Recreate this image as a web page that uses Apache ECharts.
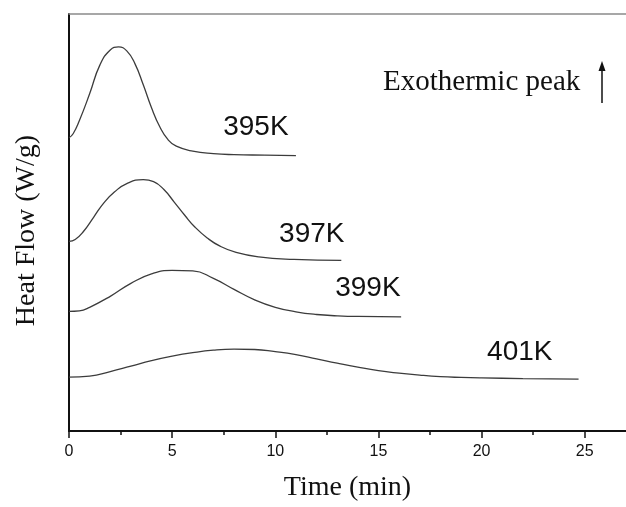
<!DOCTYPE html>
<html>
<head>
<meta charset="utf-8">
<script src="https://cdn.jsdelivr.net/npm/echarts@6/dist/echarts.min.js"></script>
<style>
  html, body { margin: 0; padding: 0; background: #fff; }
  #heatChart { width: 626px; height: 507px; }
</style>
</head>
<body>
<div id="heatChart"></div>
<script>
// DSC isothermal curves, heat flow in arbitrary units (curves are offset)
let time395 = [0, 0.2, 0.5, 1, 1.5, 2, 2.4, 2.8, 3.2, 3.6, 4, 4.4, 4.8, 5.2, 6, 7, 8, 9.5, 11]
let flow395 = [294, 298, 311, 338, 367, 382, 385, 381, 368, 347, 324, 305, 292, 285.5, 280.5, 278, 277, 276.5, 276]

let time397 = [0, 0.3, 0.7, 1.2, 1.7, 2.2, 2.8, 3.6, 4.1, 4.6, 5.1, 5.6, 6.1, 6.7, 7.3, 8.1, 9.2, 10.9, 13.2]
let flow397 = [190, 192, 200, 214.5, 229, 239.5, 248, 252, 250, 242, 229.5, 216.5, 204.5, 193.5, 185.5, 179, 174.5, 172, 171]

let time399 = [0, 0.5, 1, 2, 3, 4, 5, 6, 7, 8, 9, 10, 11, 12, 13, 14, 16.1]
let flow399 = [120, 120.5, 124, 135, 148, 157.5, 161, 160.5, 153, 142, 131.5, 124, 119.5, 116.8, 115.5, 114.8, 114.3]

let time401 = [0, 1, 2, 3, 4, 5, 6, 7, 8, 9, 10, 11, 12, 13, 14, 15, 16, 17, 18, 19, 20, 22, 24.7]
let flow401 = [54, 55, 59.5, 65, 70.5, 75, 78.5, 81, 82, 81.7, 79.5, 76.5, 72.3, 68, 64, 60.5, 58, 56, 54.5, 53.7, 53.2, 52.6, 52]

let curveNames = ['395K', '397K', '399K', '401K']
let labelTime = [9.06, 11.77, 14.49, 21.85]
let labelFlow = [304, 197, 143, 79]

let majorTicks = [0, 5, 10, 15, 20, 25]
let minorTicks = [2.5, 7.5, 12.5, 17.5, 22.5]

let lineColor = '#3c3c3c'
let serif = '"Liberation Serif", "Times New Roman", serif'
let sans = '"Liberation Sans", Arial, sans-serif'

function zipXY(xs, ys) {
  return xs.map((x, i) => [x, ys[i]])
}

let curves = [
  zipXY(time395, flow395),
  zipXY(time397, flow397),
  zipXY(time399, flow399),
  zipXY(time401, flow401)
]

let series = curves.map((d, i) => {
  return {
    name: curveNames[i],
    type: 'line',
    data: d,
    smooth: 0.5,
    showSymbol: false,
    lineStyle: { color: lineColor, width: 1.3 },
    markPoint: {
      symbol: 'circle',
      symbolSize: 0,
      data: [{ coord: [labelTime[i], labelFlow[i]] }],
      label: {
        show: true,
        formatter: curveNames[i],
        position: 'inside',
        color: '#111',
        fontFamily: sans,
        fontSize: 28
      }
    }
  }
})

let chart = echarts.init(document.getElementById('heatChart'), null, { renderer: 'canvas' })
chart.setOption({
  animation: false,
  backgroundColor: '#fff',
  grid: { left: 69, top: 14, right: 0, bottom: 75 },
  xAxis: [
    {
      type: 'value',
      min: 0,
      max: 27,
      position: 'bottom',
      name: 'Time (min)',
      nameLocation: 'middle',
      nameGap: 43,
      nameTextStyle: { fontFamily: serif, fontSize: 28, color: '#111' },
      axisLine: { lineStyle: { color: '#111', width: 2 } },
      axisTick: { customValues: majorTicks, length: 7, lineStyle: { color: '#111', width: 1.5 } },
      axisLabel: { customValues: majorTicks, margin: 13, fontFamily: sans, fontSize: 16, color: '#111' },
      splitLine: { show: false }
    },
    {
      type: 'value',
      min: 0,
      max: 27,
      position: 'bottom',
      axisLine: { show: false },
      axisTick: { customValues: minorTicks, length: 4, lineStyle: { color: '#111', width: 1.5 } },
      axisLabel: { show: false },
      splitLine: { show: false }
    },
    {
      // top frame line only
      type: 'value',
      min: 0,
      max: 27,
      position: 'top',
      axisLine: { show: true, lineStyle: { color: '#8a8a8a', width: 1.5 } },
      axisTick: { show: false },
      axisLabel: { show: false },
      splitLine: { show: false }
    }
  ],
  yAxis: {
    type: 'value',
    min: 0,
    max: 418,
    name: 'Heat Flow (W/g)',
    nameLocation: 'middle',
    nameGap: 28,
    nameTextStyle: { fontFamily: serif, fontSize: 28, color: '#111', padding: [0, 16, 0, 0] },
    axisLine: { show: true, lineStyle: { color: '#111', width: 2 } },
    axisTick: { show: false },
    axisLabel: { show: false },
    splitLine: { show: false }
  },
  graphic: [
    {
      type: 'text',
      left: 383,
      top: 68,
      style: { text: 'Exothermic peak', font: '29px ' + serif, fill: '#111' }
    },
    {
      type: 'line',
      shape: { x1: 602, y1: 103, x2: 602, y2: 68 },
      style: { stroke: '#111', lineWidth: 1.5 }
    },
    {
      type: 'polygon',
      shape: { points: [[598.5, 71], [605.5, 71], [602, 61]] },
      style: { fill: '#111' }
    }
  ],
  series: series
})
</script>
</body>
</html>
